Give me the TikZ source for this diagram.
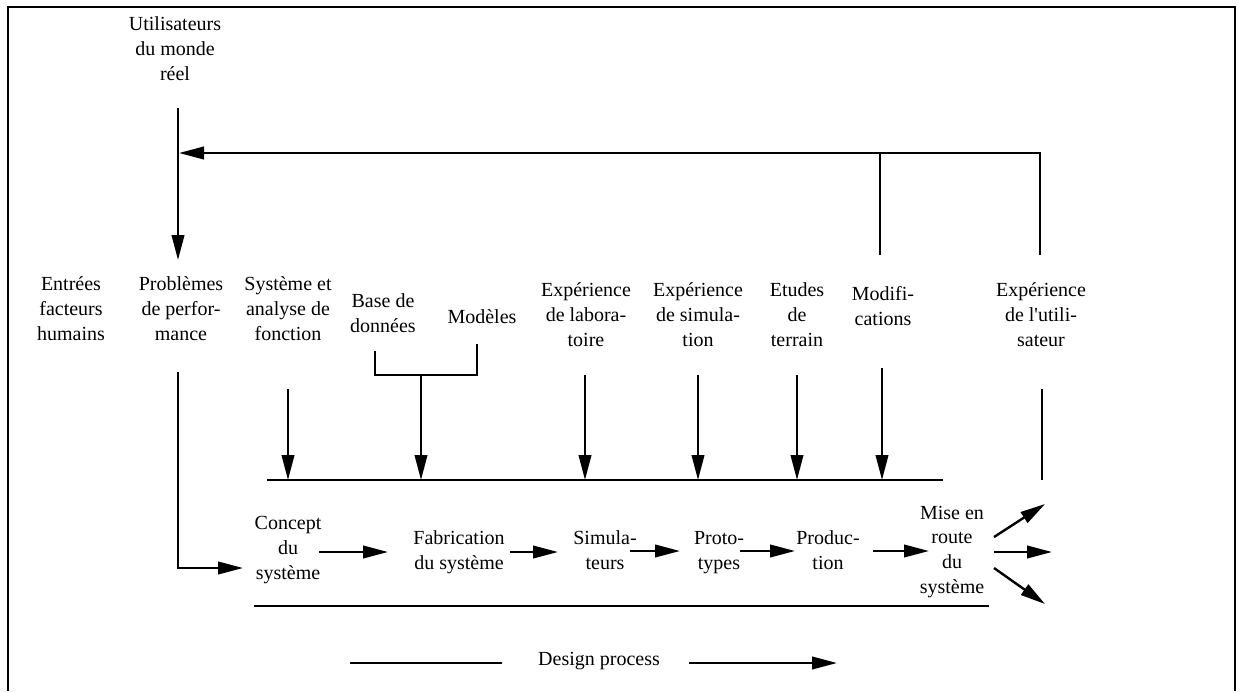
\documentclass[tikz,border=0pt]{standalone}
\usepackage{fontspec}
\setmainfont{Liberation Serif}
\newfontfamily\straightq{Liberation Serif}
\usetikzlibrary{arrows.meta}
\tikzset{
  lbl/.style={align=center, anchor=base, inner sep=0pt, font=\fontsize{20}{24.6}\selectfont},
  ln/.style={line width=2.4pt},
  arr/.style={line width=2.4pt, -{Triangle[length=25pt,width=12.5pt]}},
  frame/.style={line width=2.8pt}
}
\begin{document}
\begin{tikzpicture}[x=1pt,y=-1pt]
\useasboundingbox (0,0) rectangle (1239,691);
% frame
\coordinate (f1) at (8,691);
\coordinate (f2) at (8,7);
\coordinate (f3) at (1235,7);
\coordinate (f4) at (1235,691);
\draw[frame] (f1) -- (f2) -- (f3) -- (f4);

% labels (anchor = baseline of last line)
\node[lbl] (users) at (175,80) {Utilisateurs\\du monde\\réel};
\node[lbl] (entrees) at (71,340) {Entrées\\facteurs\\humains};
\node[lbl] (probl) at (181,340) {Problèmes\\de perfor-\\mance};
\node[lbl] (sysan) at (288,340) {Système et\\analyse de\\fonction};
\node[lbl] (base) at (383,332) {Base de\\données};
\node[lbl] (modeles) at (482,323) {Modèles};
\node[lbl] (explab) at (586,346) {Expérience\\de labora-\\toire};
\node[lbl] (expsim) at (698,346) {Expérience\\de simula-\\tion};
\node[lbl] (etudes) at (797,346) {Etudes\\de\\terrain};
\node[lbl] (modif) at (883,325) {Modifi-\\cations};
\node[lbl] (exputil) at (1041,346) {Expérience\\de l{\straightq '}utili-\\sateur};

\node[lbl] (concept) at (288,579) {Concept\\du\\système};
\node[lbl] (fab) at (459,569) {Fabrication\\du système};
\node[lbl] (simu) at (605,569) {Simula-\\teurs};
\node[lbl] (proto) at (719,569) {Proto-\\types};
\node[lbl] (prod) at (828,569) {Produc-\\tion};
\node[lbl] (mise) at (952,593) {Mise en\\route\\du\\système};
\node[lbl] (design) at (599,665) {Design process};

% users arrow and feedback
\coordinate (uTop) at (178,108);
\coordinate (uTip) at (178,260);
\draw[arr] (uTop) -- (uTip);
\coordinate (fbA) at (1040,255);
\coordinate (fbTip) at (179,153);
\draw[arr] (fbA) |- (fbTip);
\coordinate (fbB) at (880,255);
\coordinate (fbB2) at (880,153);
\draw[ln] (fbB) -- (fbB2);

% Problemes -> Concept
\coordinate (pTop) at (178,372);
\coordinate (pTip) at (243,568);
\draw[arr] (pTop) |- (pTip);

% process lines
\coordinate (tl1) at (267,480);
\coordinate (tl2) at (943,480);
\draw[ln] (tl1) -- (tl2);
\coordinate (bl1) at (254,606);
\coordinate (bl2) at (989,606);
\draw[ln] (bl1) -- (bl2);

% down arrows
\coordinate (s1) at (288,389); \coordinate (s2) at (288,480);
\draw[arr] (s1) -- (s2);
\coordinate (bk1) at (375,351); \coordinate (bk2) at (375,375);
\coordinate (bk3) at (477,375); \coordinate (bk4) at (477,344);
\draw[ln] (bk1) -- (bk2) -- (bk3) -- (bk4);
\coordinate (st1) at (421,375); \coordinate (st2) at (421,480);
\draw[arr] (st1) -- (st2);
\coordinate (l1) at (585,375); \coordinate (l2) at (585,480);
\draw[arr] (l1) -- (l2);
\coordinate (m1) at (698,375); \coordinate (m2) at (698,480);
\draw[arr] (m1) -- (m2);
\coordinate (t1) at (797,375); \coordinate (t2) at (797,480);
\draw[arr] (t1) -- (t2);
\coordinate (o1) at (882,368); \coordinate (o2) at (882,480);
\draw[arr] (o1) -- (o2);
\coordinate (e1) at (1042,389); \coordinate (e2) at (1042,480);
\draw[ln] (e1) -- (e2);

% horizontal process arrows
\coordinate (a1) at (319,552); \coordinate (a2) at (388,552);
\draw[arr] (a1) -- (a2);
\coordinate (b1) at (510,552); \coordinate (b2) at (558,552);
\draw[arr] (b1) -- (b2);
\coordinate (c1) at (630,551); \coordinate (c2) at (680,551);
\draw[arr] (c1) -- (c2);
\coordinate (d1) at (740,551); \coordinate (d2) at (795,551);
\draw[arr] (d1) -- (d2);
\coordinate (g1) at (873,551); \coordinate (g2) at (929,551);
\draw[arr] (g1) -- (g2);

% outputs of Mise en route
\coordinate (h0) at (994,537); \coordinate (h1) at (1045,504);
\draw[arr] (h0) -- (h1);
\coordinate (i0) at (994,552); \coordinate (i1) at (1052,552);
\draw[arr] (i0) -- (i1);
\coordinate (j0) at (994,568); \coordinate (j1) at (1045,604);
\draw[arr] (j0) -- (j1);

% design process
\coordinate (dp1) at (350,663); \coordinate (dp2) at (502,663);
\draw[ln] (dp1) -- (dp2);
\coordinate (dp3) at (689,663); \coordinate (dp4) at (837,663);
\draw[arr] (dp3) -- (dp4);
\end{tikzpicture}
\end{document}
